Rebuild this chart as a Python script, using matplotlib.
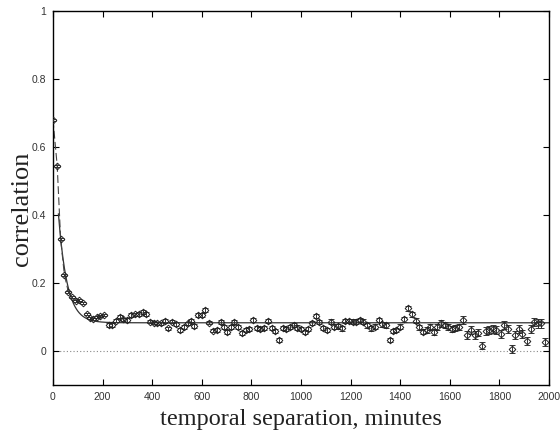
import numpy as np
import matplotlib
matplotlib.use("Agg")
import matplotlib.pyplot as plt

# separation (minutes) and measured correlation
minutes = [0, 17, 31, 46, 62, 78, 91, 106, 121, 136, 149, 163, 176, 190, 204, 226,
           239, 254, 270, 284, 300, 315, 332, 348, 362, 375, 391, 406, 421, 436, 450,
           464, 481, 496, 512, 528, 544, 556, 570, 586, 601, 614, 630, 646, 660, 677,
           690, 703, 718, 731, 747, 762, 777, 792, 808, 823, 836, 850, 866, 882, 896,
           911, 926, 940, 956, 970, 985, 1001, 1016, 1030, 1044, 1060, 1074, 1090, 1104,
           1120, 1134, 1149, 1164, 1179, 1195, 1208, 1223, 1238, 1251, 1267, 1282, 1298,
           1313, 1328, 1342, 1359, 1372, 1385, 1400, 1416, 1433, 1448, 1464, 1477, 1491,
           1507, 1520, 1536, 1550, 1566, 1580, 1594, 1609, 1623, 1636, 1655, 1671, 1684,
           1700, 1715, 1731, 1745, 1758, 1774, 1788, 1805, 1820, 1835, 1851, 1864, 1879,
           1893, 1910, 1926, 1939, 1954, 1968, 1984]

corr = [0.680, 0.545, 0.328, 0.224, 0.174, 0.159, 0.148, 0.150, 0.140, 0.109, 0.098,
        0.095, 0.099, 0.104, 0.105, 0.076, 0.076, 0.089, 0.101, 0.093, 0.091, 0.106,
        0.108, 0.109, 0.115, 0.109, 0.086, 0.083, 0.081, 0.081, 0.088, 0.067, 0.086,
        0.079, 0.062, 0.071, 0.081, 0.089, 0.074, 0.106, 0.106, 0.121, 0.083, 0.060,
        0.062, 0.085, 0.071, 0.057, 0.071, 0.084, 0.071, 0.052, 0.062, 0.064, 0.091,
        0.067, 0.064, 0.067, 0.088, 0.067, 0.060, 0.032, 0.067, 0.065, 0.071, 0.076,
        0.069, 0.065, 0.057, 0.064, 0.083, 0.103, 0.086, 0.067, 0.062, 0.086, 0.071,
        0.073, 0.067, 0.088, 0.088, 0.086, 0.086, 0.091, 0.086, 0.076, 0.067, 0.071,
        0.091, 0.079, 0.076, 0.032, 0.059, 0.062, 0.071, 0.093, 0.126, 0.108, 0.089,
        0.070, 0.057, 0.062, 0.071, 0.057, 0.071, 0.081, 0.076, 0.071, 0.065, 0.067,
        0.071, 0.091, 0.047, 0.062, 0.047, 0.054, 0.016, 0.059, 0.062, 0.064, 0.062,
        0.050, 0.076, 0.064, 0.005, 0.047, 0.065, 0.050, 0.029, 0.065, 0.086, 0.081,
        0.081, 0.027]

corr_err = ([0.003] * 15
            + [0.005] * 30
            + [0.006] * 30
            + [0.007] * 26
            + [0.009] * 10
            + [0.011] * 12
            + [0.012] * 11)

# exponential fit: plateau + amplitude * exp(-t / tau)
fit_plateau = 0.083
fit_amp = 0.60
fit_tau = 35.0

fig = plt.figure(figsize=(5.6, 4.34), dpi=100)
ax = fig.add_axes([0.0946, 0.1129, 0.8857, 0.8618])

t_fit = np.linspace(0, 2000, 2001)
y_fit = fit_plateau + fit_amp * np.exp(-t_fit / fit_tau)

ax.axhline(0, color="#888888", lw=0.8, ls=(0, (1, 2)), zorder=1)
ax.plot(t_fit[t_fit >= 22], y_fit[t_fit >= 22], color="#333333", lw=0.9, zorder=2)
ax.plot(minutes[:5], corr[:5], color="#444444", lw=0.8, ls=(0, (7, 3)), zorder=2)

ax.errorbar(minutes, corr, yerr=corr_err, fmt="D", ms=3.4, mfc="none", mec="#222222",
            mew=0.7, ecolor="#333333", elinewidth=0.7, capsize=2, capthick=0.7,
            zorder=3)

ax.set_xlim(0, 2000)
ax.set_ylim(-0.1, 1.0)
ax.set_xticks(np.arange(0, 2001, 200))
ax.set_yticks([0, 0.2, 0.4, 0.6, 0.8, 1.0])
ax.set_yticklabels(["0", "0.2", "0.4", "0.6", "0.8", "1"])
ax.tick_params(direction="in", length=4, width=0.8, top=True, right=True,
               labelsize=7.5, labelcolor="#333333", pad=5)
for lab in ax.get_xticklabels() + ax.get_yticklabels():
    lab.set_family("Liberation Sans")
for s in ax.spines.values():
    s.set_linewidth(1.0)
    s.set_color("black")

ax.set_xlabel("temporal separation, minutes", family="Liberation Serif",
              fontsize=17.5, color="#222222", labelpad=5)
ax.set_ylabel("correlation", family="Liberation Serif", fontsize=19,
              color="#222222")
ax.yaxis.set_label_coords(-0.04, 0.47)

fig.savefig("out.png", dpi=100)
